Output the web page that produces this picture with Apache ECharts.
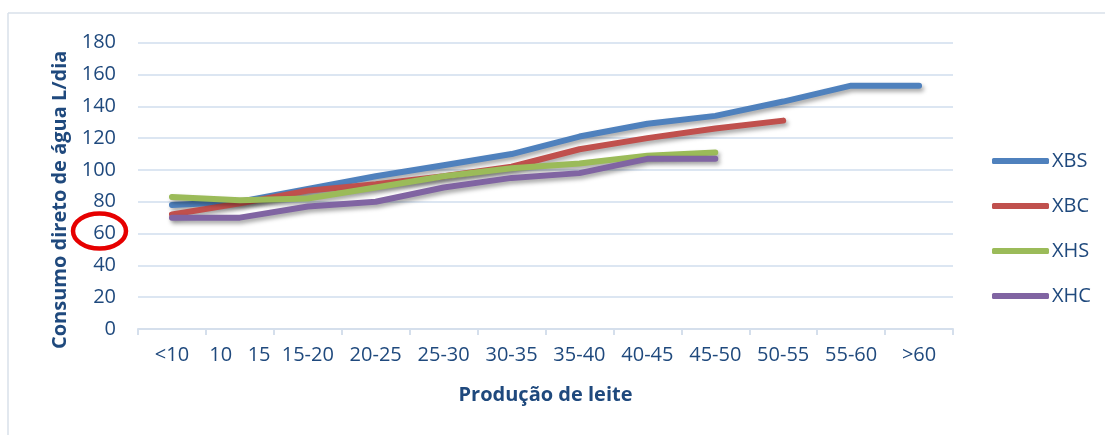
<!DOCTYPE html>
<html>
<head>
<meta charset="utf-8">
<script src="https://cdn.jsdelivr.net/npm/echarts@6/dist/echarts.min.js"></script>
<style>
html,body{margin:0;padding:0;background:#fff;}
#chart{width:1105px;height:435px;}
</style>
</head>
<body>
<div id="chart"></div>
<script>
var categories = ['<10', '10   15', '15-20', '20-25', '25-30', '30-35', '35-40', '40-45', '45-50', '50-55', '55-60', '>60'];
var seriesNames = ['XBS', 'XBC', 'XHS', 'XHC'];
var xbs = [78, 80, 88, 96, 103, 110, 121, 129, 134, 143, 153, 153];
var xbc = [72, 79, 87, 91, 96, 102, 113, 120, 126, 131, null, null];
var xhs = [83, 81, 82, 89, 96, 101, 104, 109, 111, null, null, null];
var xhc = [70, 70, 77, 80, 89, 95, 98, 107, 107, null, null, null];
var yTicks = {min: 0, max: 180, interval: 20};

var colors = ['#4F81BD', '#C0504D', '#9BBB59', '#8064A2'];
var textColor = '#1F497D';
var font = 'Open Sans';

var chart = echarts.init(document.getElementById('chart'));
function mk(name, data, color) {
  return {
    name: name, type: 'line', data: data, symbol: 'none', showSymbol: false,
    connectNulls: false,
    itemStyle: {color: color},
    lineStyle: {width: 6, color: color, cap: 'round', join: 'round',
      shadowColor: 'rgba(0,0,0,0.35)', shadowBlur: 4, shadowOffsetX: 2, shadowOffsetY: 3},
    emphasis: {disabled: true}
  };
}
chart.setOption({
  animation: false,
  textStyle: {fontFamily: font},
  grid: {left: 138, right: 152, top: 42.7, bottom: 106, containLabel: false},
  graphic: [
    {type: 'line', shape: {x1: 8, y1: 13, x2: 1105, y2: 13}, style: {stroke: '#D9E1EA', lineWidth: 1.5}},
    {type: 'line', shape: {x1: 8, y1: 13, x2: 8, y2: 435}, style: {stroke: '#D9E1EA', lineWidth: 1.5}},
    {type: 'ellipse', shape: {cx: 99.5, cy: 231, rx: 26.5, ry: 17.5}, style: {fill: 'none', stroke: '#E60000', lineWidth: 4.5}, z: 100}
  ],
  legend: {
    orient: 'vertical', left: 987, top: 146,
    data: seriesNames,
    icon: 'roundRect', itemWidth: 57, itemHeight: 6, itemGap: 25,
    itemStyle: {borderWidth: 0},
    textStyle: {color: textColor, fontSize: 20, fontFamily: font, lineHeight: 20, padding: [0, 0, 0, -2]}
  },
  xAxis: {
    type: 'category', data: categories, boundaryGap: true,
    name: 'Produção de leite', nameLocation: 'middle', nameGap: 56,
    nameTextStyle: {color: textColor, fontSize: 20, fontWeight: 'bold', fontFamily: font},
    axisLine: {lineStyle: {color: '#D5DFEC', width: 2}},
    axisTick: {show: true, alignWithLabel: false, length: 6, lineStyle: {color: '#D5DFEC', width: 2}},
    axisLabel: {color: textColor, fontSize: 20, margin: 16, interval: 0, fontFamily: font},
    splitLine: {show: false}
  },
  yAxis: {
    type: 'value', min: yTicks.min, max: yTicks.max, interval: yTicks.interval,
    name: 'Consumo direto de água L/dia', nameLocation: 'middle', nameRotate: 90, nameGap: 68,
    nameTextStyle: {color: textColor, fontSize: 20, fontWeight: 'bold', fontFamily: font, padding: [0, 28, 0, 0]},
    axisLine: {show: false}, axisTick: {show: false},
    axisLabel: {color: textColor, fontSize: 20, margin: 22, fontFamily: font},
    splitLine: {lineStyle: {color: '#DCE6F2', width: 2}}
  },
  series: [mk('XBS', xbs, colors[0]), mk('XBC', xbc, colors[1]), mk('XHS', xhs, colors[2]), mk('XHC', xhc, colors[3])]
});
</script>
</body>
</html>
